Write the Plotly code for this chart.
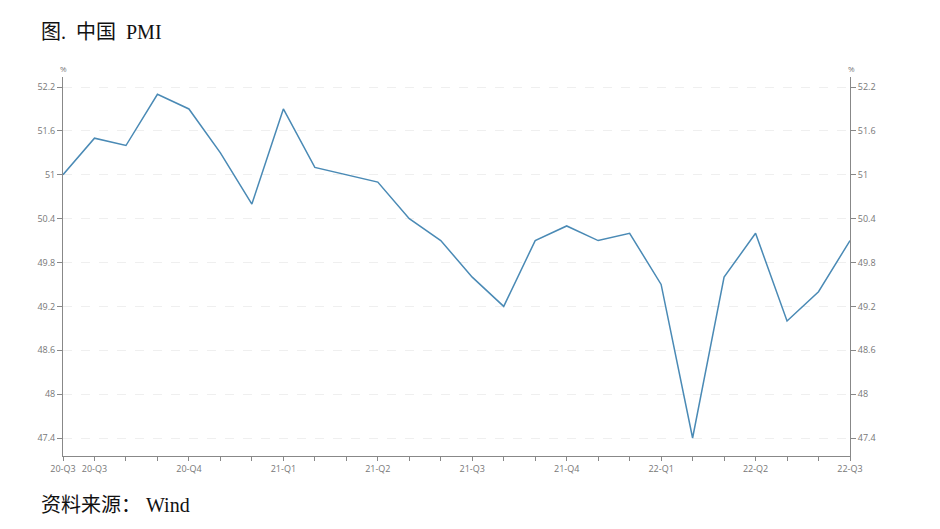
import plotly.graph_objects as go

months = ["2020-08", "2020-09", "2020-10", "2020-11", "2020-12", "2021-01", "2021-02",
          "2021-03", "2021-04", "2021-05", "2021-06", "2021-07", "2021-08", "2021-09",
          "2021-10", "2021-11", "2021-12", "2022-01", "2022-02", "2022-03", "2022-04",
          "2022-05", "2022-06", "2022-07", "2022-08", "2022-09"]
pmi = [51.0, 51.5, 51.4, 52.1, 51.9, 51.3, 50.6, 51.9, 51.1, 51.0, 50.9, 50.4, 50.1,
       49.6, 49.2, 50.1, 50.3, 50.1, 50.2, 49.5, 47.4, 49.6, 50.2, 49.0, 49.4, 50.1]
tick_labels = ["20-Q3", "20-Q3", "", "", "20-Q4", "", "", "21-Q1", "", "", "21-Q2", "", "",
               "21-Q3", "", "", "21-Q4", "", "", "22-Q1", "", "", "22-Q2", "", "", "22-Q3"]
y_ticks = [47.4, 48.0, 48.6, 49.2, 49.8, 50.4, 51.0, 51.6, 52.2]
y_tick_text = ["47.4", "48", "48.6", "49.2", "49.8", "50.4", "51", "51.6", "52.2"]

x = list(range(len(months)))
yr = [47.154, 52.337]
axis_color = "#888888"
tick_font = dict(family="Open Sans, Noto Sans CJK SC", size=9, color="#777777")

# page offset (browser body margin)
OFF = 8
W, H = 940 - OFF, 529 - OFF
pl, pr, pt, pb = 63 - OFF, 90, 77 - OFF, 73
pw, ph = W - pl - pr, H - pt - pb


def px(xp):
    return (xp - OFF - pl) / pw


def py(yp):
    return (H - pb - (yp - OFF)) / ph


fig = go.Figure()
fig.add_trace(go.Scatter(x=x, y=pmi, mode="lines", line=dict(color="#4a8ab5", width=1.5),
                         name="PMI", hovertext=months, showlegend=False))
fig.add_trace(go.Scatter(x=x, y=pmi, mode="lines", line=dict(color="rgba(0,0,0,0)", width=0),
                         yaxis="y2", showlegend=False, hoverinfo="skip"))

fig.update_layout(
    width=W, height=H,
    margin=dict(l=pl, r=pr, t=pt, b=pb, autoexpand=False),
    paper_bgcolor="white", plot_bgcolor="white",
    xaxis=dict(range=[0, len(months) - 1], tickmode="array", tickvals=x, ticktext=tick_labels,
               showgrid=False, zeroline=False, showline=True, linecolor=axis_color, linewidth=1,
               ticks="outside", ticklen=4, tickcolor=axis_color, tickfont=tick_font,
               tickangle=0, automargin=False),
    yaxis=dict(range=yr, tickmode="array", tickvals=y_ticks, ticktext=y_tick_text,
               showgrid=True, gridcolor="#efefef", griddash="dash", gridwidth=1,
               zeroline=False, showline=True, linecolor=axis_color, linewidth=1,
               ticks="outside", ticklen=5, tickcolor=axis_color, tickfont=tick_font,
               automargin=False),
    yaxis2=dict(range=yr, tickmode="array", tickvals=y_ticks, ticktext=y_tick_text,
                overlaying="y", side="right", showgrid=False, zeroline=False,
                showline=True, linecolor=axis_color, linewidth=1,
                ticks="outside", ticklen=5, tickcolor=axis_color, tickfont=tick_font,
                automargin=False),
)

fig.add_annotation(text="图.  中国  PMI", x=px(39), y=py(32), xref="paper", yref="paper",
                   xanchor="left", yanchor="middle", showarrow=False,
                   font=dict(family="Liberation Serif, Noto Sans CJK SC", size=20, color="#111111"))
fig.add_annotation(text="资料来源： Wind", x=px(39), y=py(505), xref="paper", yref="paper",
                   xanchor="left", yanchor="middle", showarrow=False,
                   font=dict(family="Liberation Serif, Noto Sans CJK SC", size=20, color="#111111"))
fig.add_annotation(text="%", x=px(63), y=py(68), xref="paper", yref="paper",
                   xanchor="center", yanchor="middle", showarrow=False,
                   font=dict(family="Open Sans", size=8, color="#777777"))
fig.add_annotation(text="%", x=px(851), y=py(68), xref="paper", yref="paper",
                   xanchor="center", yanchor="middle", showarrow=False,
                   font=dict(family="Open Sans", size=8, color="#777777"))

fig.write_html("out.html")
